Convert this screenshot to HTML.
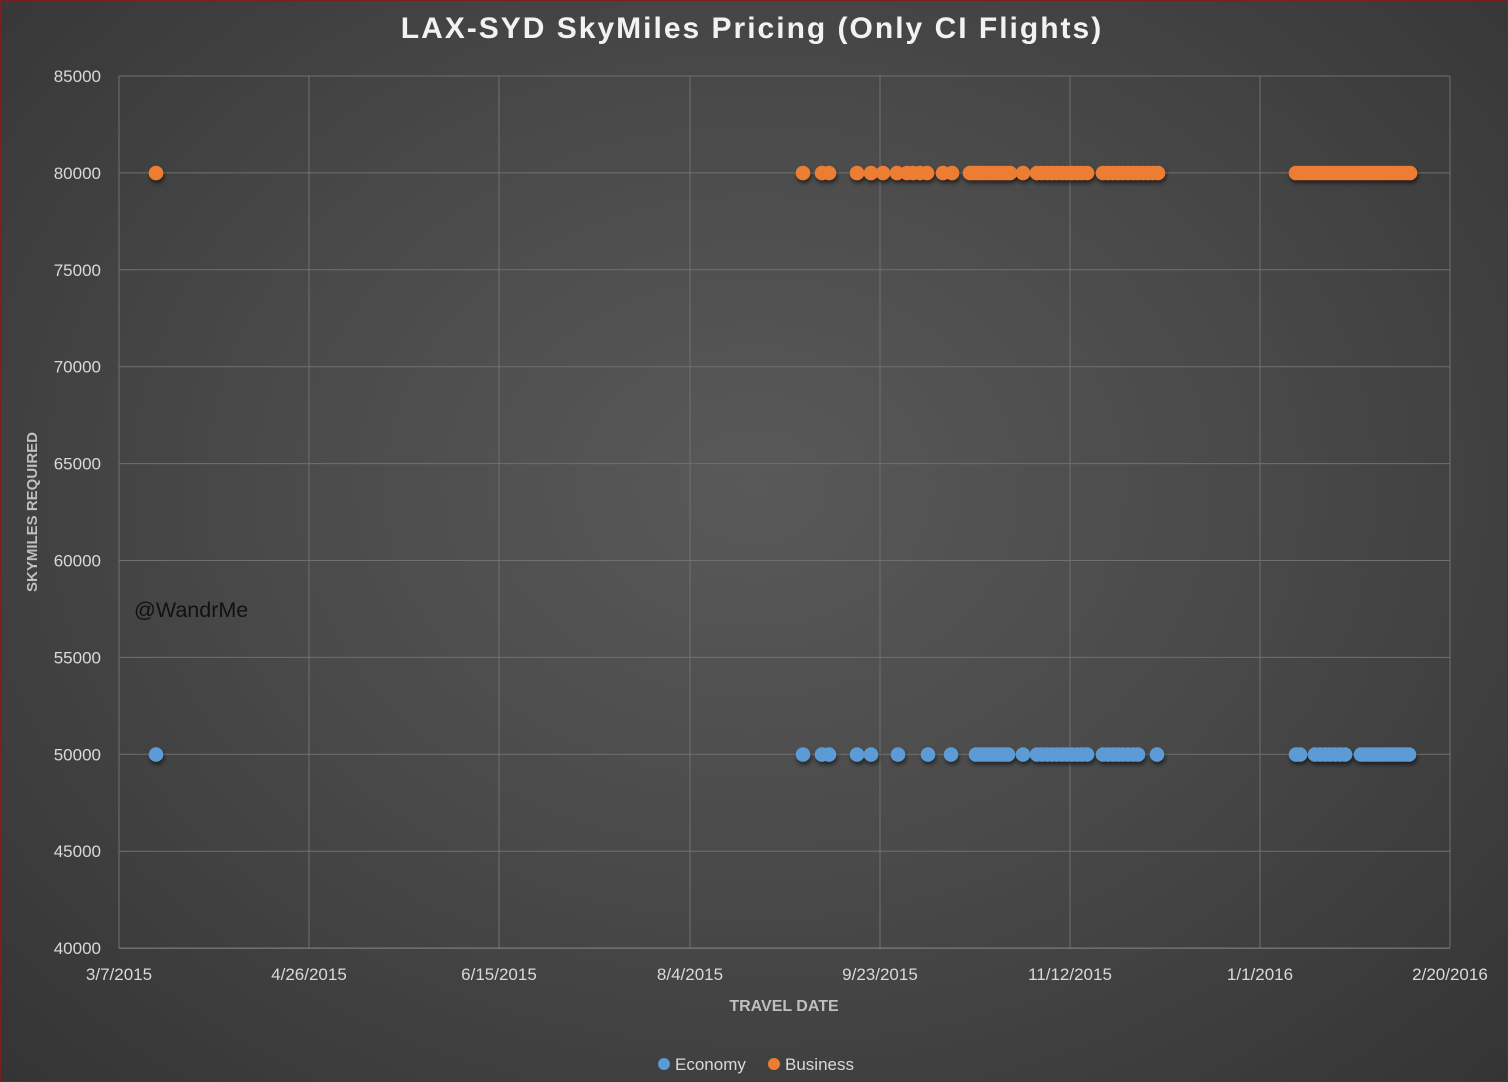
<!DOCTYPE html>
<html><head><meta charset="utf-8"><style>
html,body{margin:0;padding:0}
body{width:1508px;height:1082px;overflow:hidden;background:radial-gradient(ellipse at 50% 45%,#595959 0%,#4a4a4a 45%,#343434 100%);font-family:"Liberation Sans",sans-serif;box-sizing:border-box;border:1px solid #7a2020}
</style></head><body>
<svg id="s" width="1508" height="1082" style="position:absolute;left:0;top:0" xmlns="http://www.w3.org/2000/svg">
<defs><filter id="sh" x="-50%" y="-50%" width="200%" height="200%"><feDropShadow dx="1" dy="3" stdDeviation="2" flood-color="#000" flood-opacity="0.55"/></filter></defs>
<text x="752" y="38" text-anchor="middle" font-size="30" font-weight="bold" fill="#f2f2f2" font-family="Liberation Sans, sans-serif" letter-spacing="2">LAX-SYD SkyMiles Pricing (Only CI Flights)</text>
<g id="grid" stroke="#707070" stroke-width="1"></g>
<g id="lab" fill="#d9d9d9" font-size="17"></g>
<text transform="translate(37,512) rotate(-90)" text-anchor="middle" font-size="15" font-weight="bold" fill="#bfbfbf">SKYMILES REQUIRED</text>
<text x="784" y="1011" text-anchor="middle" font-size="16" font-weight="bold" fill="#bfbfbf">TRAVEL DATE</text>
<text x="134" y="617" font-size="21.5" fill="#111">@WandrMe</text>
<circle cx="664" cy="1064" r="6" fill="#5b9bd5"/><text x="675" y="1070" font-size="17" fill="#d9d9d9">Economy</text>
<circle cx="774" cy="1064" r="6" fill="#ed7d31"/><text x="785" y="1070" font-size="17" fill="#d9d9d9">Business</text>
<g id="dots" filter="url(#sh)"></g>
</svg>
<script>
var ns="http://www.w3.org/2000/svg",s=function(id){return document.getElementById(id)};
function el(p,t,a,txt){var e=document.createElementNS(ns,t);for(var k in a)e.setAttribute(k,a[k]);if(txt)e.textContent=txt;s(p).appendChild(e);}
var xs=[119,309,499,690,880,1070,1260,1450],dl=["3/7/2015","4/26/2015","6/15/2015","8/4/2015","9/23/2015","11/12/2015","1/1/2016","2/20/2016"];
for(var i=0;i<8;i++){el("grid","line",{x1:xs[i],x2:xs[i],y1:76,y2:948});el("lab","text",{x:xs[i],y:980,"text-anchor":"middle"},dl[i]);}
for(var j=0;j<10;j++){var y=76+j*96.9;el("grid","line",{x1:119,x2:1450,y1:y,y2:y,stroke:j==9?"#8a8a8a":"#707070"});el("lab","text",{x:101,y:y+6,"text-anchor":"end"},String(85000-j*5000));}
function rng(a,b,st){var r=[];for(var x=a;x<=b+0.1;x+=st)r.push(x);return r;}
var orange=[156,803,822,829,857,871,883,897,907,913,920,927,943,952].concat(rng(970,1010,4),[1023],rng(1037,1087,5),rng(1103,1160,5),rng(1296,1413,3.8));
var blue=[156,803,822,829,857,871,898,928,951].concat(rng(976,1008,4),[1023],rng(1037,1087,5),rng(1103,1140,5),[1157],[1296,1300],rng(1315,1345,5),rng(1361,1409,4));
orange.forEach(function(x){el("dots","circle",{cx:x,cy:173,r:7.3,fill:"#ed7d31"})});
blue.forEach(function(x){el("dots","circle",{cx:x,cy:754.5,r:7.3,fill:"#5b9bd5"})});
</script>
</body></html>
